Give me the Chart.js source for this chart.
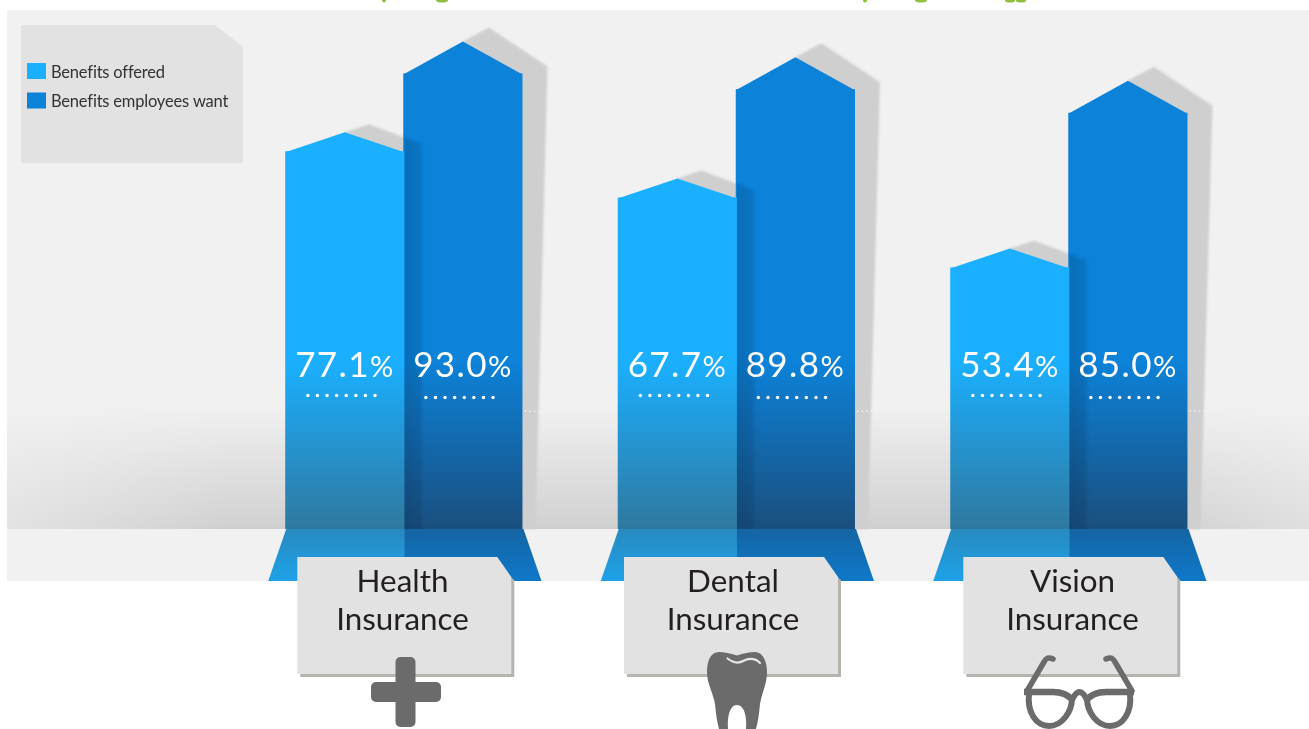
<!DOCTYPE html>
<html><head><meta charset="utf-8">
<style>html,body{margin:0;padding:0;background:#fff}canvas{display:block}</style>
<script src="https://cdn.jsdelivr.net/npm/chart.js@4"></script>
</head><body><canvas id="c" width="1309" height="729"></canvas>
<script>
// Values are the percentages printed on the columns.
const categories = [["Health","Insurance"],["Dental","Insurance"],["Vision","Insurance"]];
const seriesNames = ["Benefits offered","Benefits employees want"];
const benefitsOffered = [77.1,67.7,53.4];
const benefitsWanted = [93.0,89.8,85.0];

const FONT='Lato, "Open Sans", sans-serif';
const OFFERED='#1ab0ff', WANTED='#0c82d9';
const boxCenters=[404.3,731,1070.3];
const textCenters=[402.5,733,1072.5];
const PEAK=[19,32];

function poly(ctx,pts){ctx.beginPath();pts.forEach((p,i)=>i?ctx.lineTo(p[0],p[1]):ctx.moveTo(p[0],p[1]));ctx.closePath();}
function barGrad(chart,top,bottom){
  const g=chart.ctx.createLinearGradient(0,360,0,529);
  g.addColorStop(0,top);g.addColorStop(1,bottom);return g;
}
function geom(el,ds){
  const l=el.x-el.width/2,r=el.x+el.width/2;
  return {l,r,c:el.x,top:el.y,base:el.base,apex:el.y-PEAK[ds]};
}
const artwork={
  id:'artwork',
  beforeDraw(chart){
    const ctx=chart.ctx;
    ctx.save();
    ctx.fillStyle='#fff';ctx.fillRect(0,0,1309,729);
    ctx.fillStyle='#f1f1f1';ctx.fillRect(7,10,1302,571);
    // floor glow
    let g=ctx.createLinearGradient(0,405,0,529);
    g.addColorStop(0,'rgba(208,208,208,0)');g.addColorStop(1,'#d0d0d0');
    ctx.fillStyle=g;ctx.fillRect(7,405,1302,124);
    g=ctx.createLinearGradient(7,0,230,0);
    g.addColorStop(0,'rgba(241,241,241,.55)');g.addColorStop(1,'rgba(241,241,241,0)');
    ctx.fillStyle=g;ctx.fillRect(7,405,223,124);
    g=ctx.createLinearGradient(1150,0,1309,0);
    g.addColorStop(0,'rgba(241,241,241,0)');g.addColorStop(1,'rgba(241,241,241,.45)');
    ctx.fillStyle=g;ctx.fillRect(1150,405,159,124);
    // clipped remnants of the cut-off green heading
    ctx.fillStyle='#8dc13f';
    [[384,2,2],[442,6,2],[865,2,2],[921,6,2],[1010,5,2],[1021,5,2]].forEach(e=>{
      ctx.beginPath();ctx.ellipse(e[0],0.5,e[1],e[2],0,0,Math.PI*2);ctx.fill();});
    // legend panel
    ctx.fillStyle='#e2e2e2';
    poly(ctx,[[21,25],[215,25],[243,47],[243,163],[21,163]]);ctx.fill();
    const names=chart.data.datasets.map(d=>d.label);
    const cols=[OFFERED,WANTED];
    ctx.textBaseline='alphabetic';ctx.textAlign='left';
    names.forEach((n,i)=>{
      const y=63+i*29.5;
      ctx.fillStyle=cols[i];ctx.fillRect(27,y,19,16);
      ctx.fillStyle='#333';ctx.font='16.5px '+FONT;ctx.letterSpacing='-0.2px';
      ctx.fillText(n,51,y+14.5);
    });
    ctx.letterSpacing='0px';
    ctx.restore();
  },
  beforeDatasetsDraw(chart){
    const ctx=chart.ctx;
    ctx.save();
    ctx.filter='blur(1px)';
    ctx.fillStyle='#cfcfcf';
    [1,0].forEach(ds=>{
      chart.getDatasetMeta(ds).data.forEach(el=>{
        const b=geom(el,ds);
        const dx=ds?26:24, dy=ds?14:8, sx=ds?25:18, sy=7;
        poly(ctx,[[b.c,b.apex],[b.c+dx,b.apex-dy],[b.r+sx,b.top-sy],[b.r+(ds?13:16),b.base],[b.r,b.base]]);
        ctx.fill();
      });
    });
    ctx.filter='none';
    // faint dotted guide either side of each group
    chart.getDatasetMeta(1).data.forEach((el,i)=>{
      const r=geom(el,1).r, l=geom(chart.getDatasetMeta(0).data[i],0).l;
      for(let k=2;k<20;k+=4.7){
        ctx.fillStyle='rgba(255,255,255,.75)';ctx.fillRect(r+k,410.5,1.5,1.5);
        ctx.fillStyle='rgba(255,255,255,.35)';ctx.fillRect(l-k-1,410.5,1.5,1.5);
      }
    });
    ctx.restore();
  },
  afterDatasetsDraw(chart){
    const ctx=chart.ctx;
    ctx.save();
    // peaks
    [0,1].forEach(ds=>{
      chart.getDatasetMeta(ds).data.forEach(el=>{
        const b=geom(el,ds);
        ctx.fillStyle=ds?WANTED:OFFERED;
        poly(ctx,[[b.l,b.top+1],[b.c,b.apex],[b.r,b.top+1]]);ctx.fill();
      });
    });
    // offered column's shadow falling on the wanted column
    chart.getDatasetMeta(0).data.forEach((el,i)=>{
      const b=geom(el,0), w=geom(chart.getDatasetMeta(1).data[i],1);
      ctx.save();
      ctx.beginPath();ctx.rect(b.r,w.apex,w.r-b.r,b.base-w.apex);ctx.clip();
      ctx.filter='blur(1.5px)';
      const g=ctx.createLinearGradient(b.r,0,b.r+19,0);
      g.addColorStop(0,'rgba(0,30,60,.2)');g.addColorStop(.8,'rgba(0,30,60,.14)');g.addColorStop(1,'rgba(0,30,60,.04)');
      ctx.fillStyle=g;
      poly(ctx,[[b.c+24,b.apex-8],[b.r+18,b.top-7],[b.r+18,b.base+4],[b.r-4,b.base+4],[b.r-4,b.apex-8]]);ctx.fill();
      ctx.filter='none';
      ctx.restore();
      // light-beam trapezoids
      const y0=529,y1=581;
      let g1=ctx.createLinearGradient(0,y0,0,y1);
      g1.addColorStop(0,'#278ac0');g1.addColorStop(1,'#1fa2e8');
      ctx.fillStyle=g1;
      poly(ctx,[[b.l+1,y0],[b.r+.5,y0],[b.r+.5,y1],[b.l-17,y1]]);ctx.fill();
      let g2=ctx.createLinearGradient(0,y0,0,y1);
      g2.addColorStop(0,'#1465a3');g2.addColorStop(1,'#0e78c9');
      ctx.fillStyle=g2;
      poly(ctx,[[b.r,y0],[w.r+1,y0],[w.r+19,y1],[b.r,y1]]);ctx.fill();
    });
    // value labels and dotted rules
    ctx.textBaseline='alphabetic';
    [0,1].forEach(ds=>{
      chart.getDatasetMeta(ds).data.forEach((el,i)=>{
        const v=chart.data.datasets[ds].data[i].toFixed(1);
        ctx.fillStyle='#fff';
        ctx.letterSpacing='1.4px';
        ctx.font='400 35px '+FONT;
        const w1=ctx.measureText(v).width;
        ctx.font='400 29px '+FONT;
        const w2=ctx.measureText('%').width;
        const x=el.x-(w1+w2)/2;
        ctx.textAlign='left';
        ctx.font='400 35px '+FONT;ctx.fillText(v,x,377);
        ctx.font='400 29px '+FONT;ctx.fillText('%',x+w1,377);
        ctx.letterSpacing='0px';
        for(let k=0;k<8;k++){
          ctx.beginPath();ctx.arc(el.x-37+k*9.6,ds?397.5:395.5,1.7,0,Math.PI*2);ctx.fill();
        }
      });
    });
    // category cards
    chart.data.labels.forEach((lab,i)=>{
      const c=boxCenters[i],l=c-107,r=c+107,t=557,b=674;
      ctx.fillStyle='#b5b5b0';
      poly(ctx,[[l+3,b-5],[r-5,t+18],[r-2,t+19],[r+3,t+23],[r+3,b+3],[l+3,b+3]]);ctx.fill();
      ctx.fillStyle='#e2e2e2';
      poly(ctx,[[l,t],[r-14,t],[r,t+20],[r,b],[l,b]]);ctx.fill();
      ctx.fillStyle='#231f20';ctx.textAlign='center';
      ctx.font='31.4px '+FONT;
      ctx.fillText(lab[0],textCenters[i],592);
      ctx.fillText(lab[1],textCenters[i],630);
    });
    const G='#6b6b6b';
    // plus icon
    ctx.fillStyle=G;
    ctx.beginPath();ctx.roundRect(395.5,657,20,70,5);ctx.roundRect(371,682,70,20,5);ctx.fill();
    // tooth icon
    ctx.beginPath();
    ctx.moveTo(737,655.5);
    ctx.bezierCurveTo(730,653.5,724,652,719,652);
    ctx.bezierCurveTo(710,652,707,662,707,672);
    ctx.bezierCurveTo(707,684,713,692,715,704);
    ctx.bezierCurveTo(716,714,717,722,719,729);
    ctx.lineTo(728,729);
    ctx.bezierCurveTo(727,716,730,705,737,705);
    ctx.bezierCurveTo(744,705,747,716,746,729);
    ctx.lineTo(756,729);
    ctx.bezierCurveTo(758,722,759,714,760,704);
    ctx.bezierCurveTo(762,692,767,684,767,672);
    ctx.bezierCurveTo(767,662,763,652,755,652);
    ctx.bezierCurveTo(749,652,744,653.5,737,655.5);
    ctx.closePath();ctx.fill();
    ctx.strokeStyle='#e8e8e8';ctx.lineWidth=2.2;ctx.lineCap='round';
    ctx.beginPath();ctx.moveTo(727.5,658.5);ctx.quadraticCurveTo(736,665,743,661);ctx.quadraticCurveTo(753,656,760,663);ctx.stroke();
    // glasses icon
    ctx.strokeStyle=G;ctx.lineWidth=5.5;ctx.lineCap='round';ctx.lineJoin='round';
    ctx.beginPath();ctx.moveTo(1027,691);ctx.lineTo(1044,662);ctx.quadraticCurveTo(1047,656,1053,659);ctx.stroke();
    ctx.beginPath();ctx.moveTo(1132,691);ctx.lineTo(1115,662);ctx.quadraticCurveTo(1112,656,1106,659);ctx.stroke();
    ctx.lineWidth=6.5;ctx.lineCap='butt';
    ctx.beginPath();ctx.moveTo(1024,692);ctx.lineTo(1053,692);ctx.bezierCurveTo(1064,692,1068,696,1072,699);ctx.stroke();
    ctx.beginPath();ctx.moveTo(1134,692);ctx.lineTo(1106,692);ctx.bezierCurveTo(1095,692,1091,696,1087,699);ctx.stroke();
    ctx.lineWidth=6;
    ctx.beginPath();ctx.moveTo(1072,700);ctx.quadraticCurveTo(1079.5,684,1087,700);ctx.stroke();
    ctx.beginPath();ctx.moveTo(1029,694);ctx.bezierCurveTo(1027,712,1036,726,1049,726);ctx.bezierCurveTo(1062,726,1072,712,1072,698);ctx.stroke();
    ctx.beginPath();ctx.moveTo(1130,694);ctx.bezierCurveTo(1132,712,1123,726,1110,726);ctx.bezierCurveTo(1097,726,1087,712,1087,698);ctx.stroke();
    ctx.restore();
  }
};
new Chart(document.getElementById('c'),{
  type:'bar',
  data:{labels:categories,datasets:[
    {label:seriesNames[0],data:benefitsOffered,clip:false,
     backgroundColor:c=>barGrad(c.chart,OFFERED,'#2f789f')},
    {label:seriesNames[1],data:benefitsWanted,clip:false,
     backgroundColor:c=>barGrad(c.chart,WANTED,'#1a4f7e')}
  ]},
  options:{
    responsive:false,animation:false,devicePixelRatio:1,
    layout:{padding:{left:237.6,right:73.9,top:0,bottom:200}},
    events:[],
    datasets:{bar:{categoryPercentage:.71,barPercentage:1.01,borderWidth:0}},
    scales:{
      x:{display:false,stacked:false},
      y:{display:false,min:0,max:108}
    },
    plugins:{legend:{display:false},tooltip:{enabled:false},title:{display:false}}
  },
  plugins:[artwork]
});
</script></body></html>
